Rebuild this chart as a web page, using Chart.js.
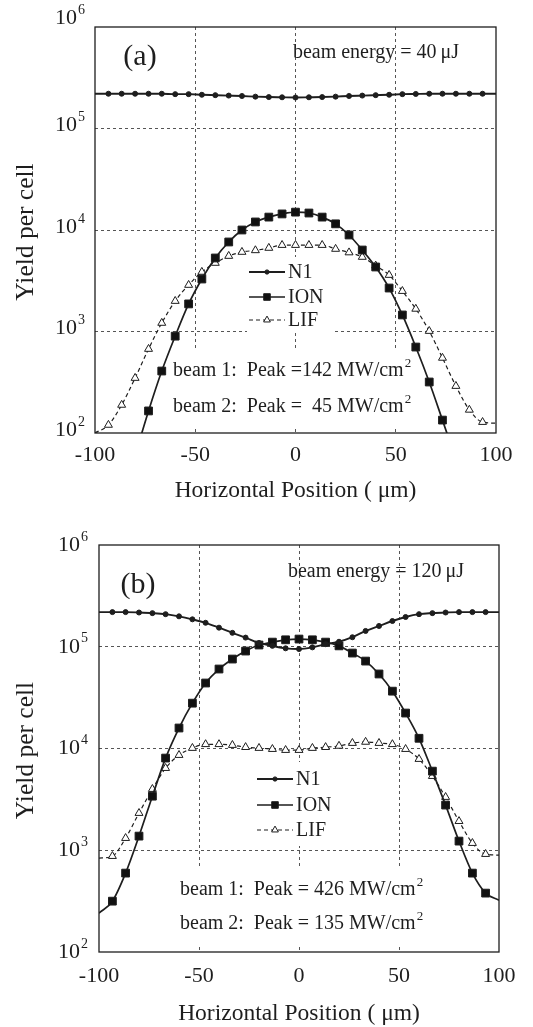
<!DOCTYPE html>
<html>
<head>
<meta charset="utf-8">
<script src="https://cdn.jsdelivr.net/npm/chart.js@4/dist/chart.umd.min.js"></script>
<style>
  html, body { margin: 0; padding: 0; background: #fff; }
  .wrap { position: absolute; left: 0; width: 533px; }
</style>
</head>
<body>
<div class="wrap" style="top:0;height:513px"><canvas id="chartA" width="533" height="513"></canvas></div>
<div class="wrap" style="top:513px;height:514px"><canvas id="chartB" width="533" height="514"></canvas></div>
<script>
// x positions of the samples (um); first and last are the plot edges (no marker)
const positions = [-100, -93.3, -86.7, -80, -73.3, -66.7, -60, -53.3, -46.7, -40, -33.3, -26.7, -20, -13.3, -6.7, 0,
                   6.7, 13.3, 20, 26.7, 33.3, 40, 46.7, 53.3, 60, 66.7, 73.3, 80, 86.7, 93.3, 100];

// panel (a): beam energy 40 uJ
const n1A = [220000, 220000, 220000, 220000, 220000, 220000, 218000, 218000, 215000, 213000, 211000, 209000, 206000, 204000, 203000, 202000,
             203000, 204000, 206000, 209000, 211000, 213000, 215000, 218000, 219000, 220000, 220000, 220000, 220000, 220000, 220000];
const ionA = [null, null, null, 60, 165, 408, 900, 1870, 3290, 5300, 7620, 10000, 12000, 13400, 14400, 15000,
              14700, 13400, 11500, 8930, 6350, 4320, 2680, 1455, 703, 318, 134, 55, null, null, null];
const lifA = [100, 120, 189, 348, 672, 1213, 1995, 2870, 3860, 4730, 5540, 6070, 6300, 6650, 7100, 7100,
              7100, 7100, 6500, 6000, 5420, 4450, 3600, 2500, 1670, 1010, 549, 290, 169, 128, 125];

// panel (b): beam energy 120 uJ
const n1B = [219000, 219000, 219000, 217000, 214000, 209000, 199000, 186000, 172000, 154000, 137000, 123000, 109000, 102000, 96500, 95000,
             98600, 106000, 112000, 124000, 143000, 160000, 179000, 196000, 209000, 214000, 217000, 219000, 219000, 219000, 219000];
const ionB = [241, 316, 596, 1377, 3400, 8050, 15900, 27900, 44000, 60400, 75700, 90700, 104000, 111000, 117000, 119000,
              117000, 111000, 102000, 86700, 72300, 54000, 36600, 22300, 12600, 5990, 2780, 1230, 596, 379, 323];
const lifB = [836, 875, 1315, 2317, 3990, 6410, 8610, 10100, 11000, 11000, 10800, 10300, 10100, 9860, 9640, 9640,
              10100, 10300, 10600, 11300, 11600, 11300, 11000, 9860, 7870, 5350, 3330, 1930, 1175, 916, 896];

const seriesNames = ['N1', 'ION', 'LIF'];
const xTicks = [-100, -50, 0, 50, 100];
const yTicks = [1e2, 1e3, 1e4, 1e5, 1e6];

const ink = '#1e1e1e';
const serif = '"Liberation Serif", "Times New Roman", serif';

const styles = [
  { pointStyle: 'circle', r: 2.5, fill: ink, width: 1.9, dash: [] },
  { pointStyle: 'rect', r: 5.5, fill: '#111', width: 1.7, dash: [] },
  { pointStyle: 'triangle', r: 4.6, fill: '#fff', width: 1.2, dash: [4, 3] }
];

function makeDataset(i, values) {
  const s = styles[i];
  return {
    label: seriesNames[i],
    data: positions.map((x, k) => ({ x: x, y: values[k] })),
    borderColor: ink,
    borderWidth: s.width,
    borderDash: s.dash,
    pointStyle: s.pointStyle,
    pointRadius: positions.map((x, k) => (k === 0 || k === positions.length - 1) ? 0 : s.r),
    pointBackgroundColor: s.fill,
    pointBorderColor: ink,
    pointBorderWidth: 1,
    cubicInterpolationMode: 'monotone',
    spanGaps: false
  };
}

function drawMarker(ctx, s, x, y, scale) {
  const r = s.r * scale;
  ctx.save();
  ctx.setLineDash([]);
  ctx.fillStyle = s.fill;
  ctx.strokeStyle = ink;
  ctx.lineWidth = 1;
  ctx.beginPath();
  if (s.pointStyle === 'circle') {
    ctx.arc(x, y, r, 0, Math.PI * 2);
  } else if (s.pointStyle === 'rect') {
    const h = r * Math.SQRT1_2;
    ctx.rect(x - h, y - h, 2 * h, 2 * h);
  } else {
    ctx.moveTo(x, y - r);
    ctx.lineTo(x + r * 0.866, y + r * 0.5);
    ctx.lineTo(x - r * 0.866, y + r * 0.5);
    ctx.closePath();
  }
  ctx.fill();
  ctx.stroke();
  ctx.restore();
}

function textWithSup(ctx, text, sup, x, y, size) {
  ctx.font = size + 'px ' + serif;
  ctx.textAlign = 'left';
  ctx.fillText(text, x, y);
  const w = ctx.measureText(text).width;
  ctx.font = Math.round(size * 0.65) + 'px ' + serif;
  ctx.fillText(sup, x + w + 1, y - size * 0.38);
}

function decor(cfg) {
  return {
    id: 'decor',
    beforeDatasetsDraw(chart) {
      const ctx = chart.ctx;
      ctx.save();
      ctx.fillStyle = '#fff';
      cfg.boxes.forEach(b => ctx.fillRect(b[0], b[1], b[2], b[3]));
      ctx.restore();
    },
    afterDraw(chart) {
      const ctx = chart.ctx;
      const area = chart.chartArea;
      const xs = chart.scales.x, ys = chart.scales.y;
      ctx.save();
      ctx.strokeStyle = ink;
      ctx.lineWidth = 1.3;
      ctx.strokeRect(area.left, area.top, area.right - area.left, area.bottom - area.top);

      ctx.fillStyle = ink;
      ctx.textBaseline = 'middle';
      // y tick labels 10^n
      yTicks.forEach(v => {
        const y = ys.getPixelForValue(v) + (v === 1e6 ? cfg.topDy : cfg.tickDy);
        ctx.font = '22px ' + serif;
        ctx.textAlign = 'right';
        ctx.fillText('10', cfg.yLabelRight, y);
        ctx.font = '14px ' + serif;
        ctx.textAlign = 'left';
        ctx.fillText(String(Math.round(Math.log10(v))), cfg.yLabelRight + 1, y - 8);
      });
      // x tick labels
      ctx.font = '22px ' + serif;
      ctx.textAlign = 'center';
      xTicks.forEach(v => ctx.fillText(String(v), xs.getPixelForValue(v), area.bottom + cfg.xLabelDy));
      // axis titles
      ctx.font = '23.5px ' + serif;
      ctx.fillText('Horizontal Position ( \u03bcm)', (area.left + area.right) / 2, cfg.xTitleY);
      ctx.save();
      ctx.translate(cfg.yTitleX, (area.top + area.bottom) / 2 + 2);
      ctx.rotate(-Math.PI / 2);
      ctx.font = '25.5px ' + serif;
      ctx.fillText('Yield per cell', 0, 0);
      ctx.restore();
      // panel label and energy
      ctx.font = '30px ' + serif;
      ctx.fillText(cfg.label, cfg.labelPos[0], cfg.labelPos[1]);
      ctx.font = '20px ' + serif;
      ctx.fillText(cfg.energy, cfg.energyPos[0], cfg.energyPos[1]);
      // legend
      cfg.legendRows.forEach((y, i) => {
        const s = styles[i];
        ctx.save();
        ctx.strokeStyle = ink;
        ctx.lineWidth = s.width;
        ctx.setLineDash(s.dash);
        ctx.beginPath();
        ctx.moveTo(cfg.legendX, y);
        ctx.lineTo(cfg.legendX + 36, y);
        ctx.stroke();
        ctx.restore();
        drawMarker(ctx, s, cfg.legendX + 18, y, 0.85);
        ctx.fillStyle = ink;
        ctx.font = '20px ' + serif;
        ctx.textAlign = 'left';
        ctx.fillText(seriesNames[i], cfg.legendX + 39, y + 1);
      });
      // beam peak intensities
      cfg.beams.forEach(b => textWithSup(ctx, b[0], '2', b[1], b[2], 20));
      ctx.restore();
    }
  };
}

function buildPanel(id, n1, ion, lif, cfg) {
  const ctx = document.getElementById(id).getContext('2d');
  const gridColor = (c) => (c.tick && (c.tick.value === xTicks[0] || c.tick.value === xTicks[4] ||
                             c.tick.value === yTicks[0] || c.tick.value === yTicks[4])) ? 'rgba(0,0,0,0)' : '#555';
  return new Chart(ctx, {
    type: 'line',
    data: { datasets: [makeDataset(0, n1), makeDataset(1, ion), makeDataset(2, lif)] },
    options: {
      responsive: false,
      animation: false,
      devicePixelRatio: 1,
      layout: { padding: { left: 0, top: cfg.top, right: 533 - cfg.right, bottom: 0 } },
      scales: {
        x: {
          type: 'linear', min: -100, max: 100,
          afterBuildTicks: s => { s.ticks = xTicks.map(v => ({ value: v })); },
          ticks: { display: false },
          grid: { color: gridColor, lineWidth: 1, drawTicks: false },
          border: { display: false, dash: [3, 3] },
          afterFit: s => { s.height = cfg.h - cfg.bottom; }
        },
        y: {
          type: 'logarithmic', min: 100, max: 1e6,
          afterBuildTicks: s => { s.ticks = yTicks.map(v => ({ value: v })); },
          ticks: { display: false },
          grid: { color: gridColor, lineWidth: 1, drawTicks: false },
          border: { display: false, dash: [3, 3] },
          afterFit: s => { s.width = cfg.left; }
        }
      },
      plugins: { legend: { display: false }, tooltip: { enabled: false } }
    },
    plugins: [decor(cfg)]
  });
}

window.addEventListener('load', () => {
  buildPanel('chartA', n1A, ionA, lifA, {
    left: 95, right: 496, top: 27, bottom: 433, h: 513,
    tickDy: -3, topDy: -9, yLabelRight: 77, xLabelDy: 22, xTitleY: 491, yTitleX: 26,
    label: '(a)', labelPos: [140, 57],
    energy: 'beam energy = 40\u2009\u03bcJ', energyPos: [376, 53],
    legendX: 249, legendRows: [272, 297, 320],
    boxes: [[247, 257, 86, 76], [170, 350, 250, 76]],
    beams: [['beam 1:  Peak =142 MW/cm', 173, 371], ['beam 2:  Peak =  45 MW/cm', 173, 407]]
  });
  buildPanel('chartB', n1B, ionB, lifB, {
    left: 99, right: 499, top: 32, bottom: 439, h: 514,
    tickDy: 0, topDy: 0, yLabelRight: 80, xLabelDy: 24, xTitleY: 501, yTitleX: 26,
    label: '(b)', labelPos: [138, 72],
    energy: 'beam energy = 120\u2009\u03bcJ', energyPos: [376, 59],
    legendX: 257, legendRows: [266, 292, 317],
    boxes: [[255, 249, 86, 84], [178, 355, 250, 77]],
    beams: [['beam 1:  Peak = 426 MW/cm', 180, 377], ['beam 2:  Peak = 135 MW/cm', 180, 411]]
  });
});
</script>
</body>
</html>
